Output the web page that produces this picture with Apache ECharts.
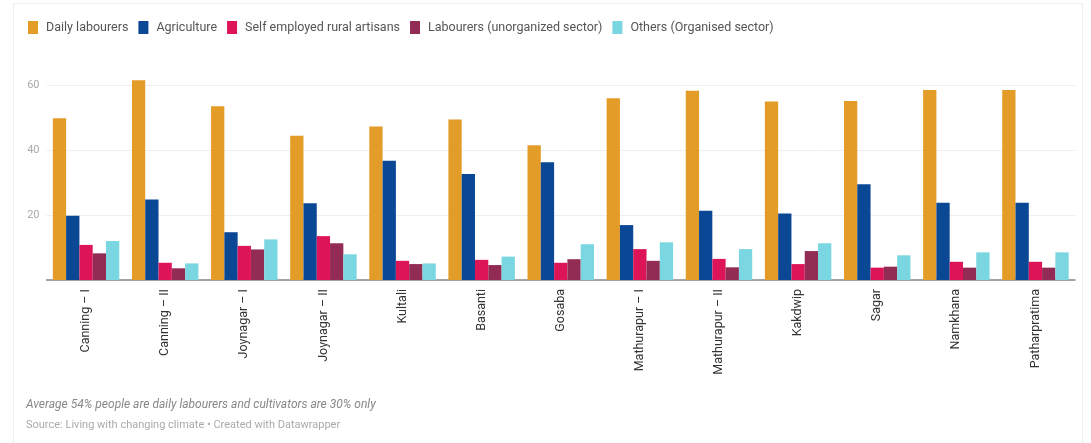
<!DOCTYPE html>
<html>
<head>
<meta charset="utf-8">
<script src="https://cdn.jsdelivr.net/npm/echarts@6/dist/echarts.min.js"></script>
<style>
  html, body { margin: 0; padding: 0; background: #fff; }
  #frame { position: absolute; left: 13px; top: 3px; width: 1070px; height: 450px;
    border: 1px solid #eee; box-sizing: border-box; }
  #chart { position: absolute; left: 0; top: 0; width: 1091px; height: 443px; }
</style>
</head>
<body>
<div id="frame"></div>
<div id="chart"></div>
<script>
const blocks = ['Canning – I', 'Canning – II', 'Joynagar – I', 'Joynagar – II', 'Kultali', 'Basanti',
  'Gosaba', 'Mathurapur – I', 'Mathurapur – II', 'Kakdwip', 'Sagar', 'Namkhana', 'Patharpratima']

const dailyLabourers = [49.8, 61.5, 53.5, 44.4, 47.2, 49.4, 41.5, 55.9, 58.2, 54.9, 55.1, 58.5, 58.5]
const agriculture = [19.8, 24.8, 14.7, 23.6, 36.7, 32.6, 36.2, 16.9, 21.3, 20.5, 29.5, 23.8, 23.8]
const ruralArtisans = [10.8, 5.3, 10.5, 13.5, 5.9, 6.2, 5.3, 9.5, 6.5, 4.9, 3.8, 5.6, 5.6]
const unorganized = [8.2, 3.6, 9.4, 11.3, 4.9, 4.6, 6.4, 5.9, 3.9, 8.9, 4.1, 3.8, 3.8]
const organised = [12.0, 5.1, 12.5, 7.9, 5.1, 7.2, 11.0, 11.6, 9.5, 11.3, 7.6, 8.5, 8.5]

const seriesDefs = [
  ['Daily labourers', dailyLabourers, '#e49c28'],
  ['Agriculture', agriculture, '#0a4795'],
  ['Self employed rural artisans', ruralArtisans, '#de1459'],
  ['Labourers (unorganized sector)', unorganized, '#922c55'],
  ['Others (Organised sector)', organised, '#7ad6e0']
]

const chart = echarts.init(document.getElementById('chart'))

chart.setOption({
  animation: false,
  textStyle: { fontFamily: 'Roboto' },
  legend: {
    left: 23, top: 16,
    itemWidth: 10, itemHeight: 13, itemGap: 10,
    icon: 'rect',
    textStyle: { color: '#555', fontSize: 12.5, padding: [0, 0, 0, 3] }
  },
  grid: { left: 46.5, right: 16, top: 85, bottom: 163 },
  xAxis: {
    type: 'category',
    data: blocks,
    axisLine: { lineStyle: { color: '#888', width: 1.5 } },
    axisTick: { alignWithLabel: true, length: 4, lineStyle: { color: '#888' } },
    axisLabel: { rotate: 90, color: '#333', fontSize: 12.5, margin: 9, interval: 0 }
  },
  yAxis: {
    type: 'value',
    min: 0, max: 60, interval: 20,
    axisLine: { show: false },
    axisTick: { show: false },
    axisLabel: { showMinLabel: false, color: '#aaa', fontSize: 11, margin: 7 },
    splitLine: { lineStyle: { color: '#eee' } }
  },
  series: seriesDefs.map(([name, data, color]) => ({
    name, type: 'bar', data, clip: false,
    barGap: '0%', barCategoryGap: '16%',
    itemStyle: { color }
  })),
  graphic: [
    { type: 'text', left: 26, top: 399,
      style: { text: 'Average 54% people are daily labourers and cultivators are 30% only',
        fontFamily: 'Roboto', fontStyle: 'italic', fontSize: 12, fill: '#888' } },
    { type: 'text', left: 26, top: 420,
      style: { text: 'Source: Living with changing climate • Created with Datawrapper',
        fontFamily: 'Roboto', fontSize: 11, fill: '#aaa' } }
  ]
})
</script>
</body>
</html>
